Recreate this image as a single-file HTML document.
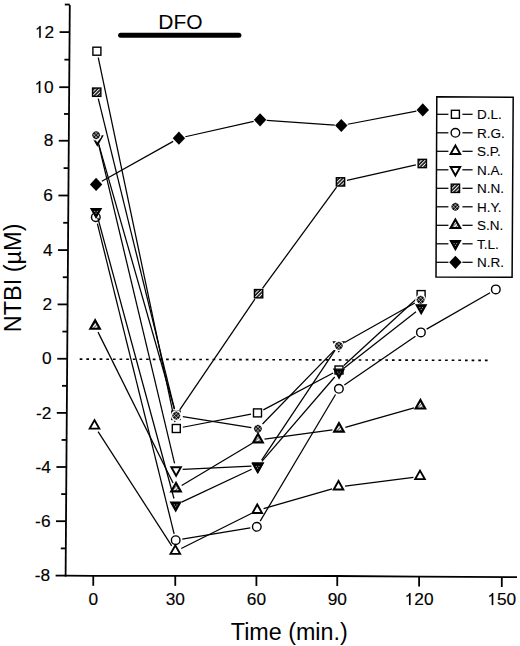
<!DOCTYPE html>
<html><head><meta charset="utf-8"><style>
html,body{margin:0;padding:0;background:#fff;width:520px;height:646px;overflow:hidden;}
svg{display:block;}
</style></head><body>
<svg width="520" height="646" viewBox="0 0 520 646">
<defs>
<pattern id="hatchT" width="2.4" height="2.4" patternUnits="userSpaceOnUse" patternTransform="rotate(45)">
<rect width="2.4" height="2.4" fill="#fff"/><rect width="1.0" height="2.4" fill="#555"/>
</pattern>
<pattern id="hatchN" width="2.6" height="2.6" patternUnits="userSpaceOnUse" patternTransform="rotate(45)">
<rect width="2.6" height="2.6" fill="#111"/><rect width="1.05" height="2.6" fill="#f4f4f4"/>
</pattern>
</defs>
<rect width="520" height="646" fill="#fff"/>
<line x1="69.80" y1="4.9" x2="65.60" y2="576.4" stroke="#000" stroke-width="1.8"/>
<polyline points="65.0,575.6 93.0,575.8 337.0,576.0 419.0,576.6 517.0,577.1" fill="none" stroke="#000" stroke-width="1.8"/>
<line x1="55.61" y1="575.60" x2="65.61" y2="575.60" stroke="#000" stroke-width="1.8"/>
<text x="34.72" y="581.30" font-size="17.3" font-family='"Liberation Sans", sans-serif' stroke="#000" stroke-width="0.15">-</text><text x="40.48" y="581.30" font-size="17.3" font-family='"Liberation Sans", sans-serif' stroke="#000" stroke-width="0.15">8</text>
<line x1="60.81" y1="548.40" x2="65.81" y2="548.40" stroke="#000" stroke-width="1.8"/>
<line x1="56.01" y1="521.20" x2="66.01" y2="521.20" stroke="#000" stroke-width="1.8"/>
<text x="35.12" y="526.90" font-size="17.3" font-family='"Liberation Sans", sans-serif' stroke="#000" stroke-width="0.15">-</text><text x="40.88" y="526.90" font-size="17.3" font-family='"Liberation Sans", sans-serif' stroke="#000" stroke-width="0.15">6</text>
<line x1="61.20" y1="494.10" x2="66.20" y2="494.10" stroke="#000" stroke-width="1.8"/>
<line x1="56.40" y1="467.00" x2="66.40" y2="467.00" stroke="#000" stroke-width="1.8"/>
<text x="35.52" y="472.70" font-size="17.3" font-family='"Liberation Sans", sans-serif' stroke="#000" stroke-width="0.15">-</text><text x="41.28" y="472.70" font-size="17.3" font-family='"Liberation Sans", sans-serif' stroke="#000" stroke-width="0.15">4</text>
<line x1="61.60" y1="439.95" x2="66.60" y2="439.95" stroke="#000" stroke-width="1.8"/>
<line x1="56.80" y1="412.90" x2="66.80" y2="412.90" stroke="#000" stroke-width="1.8"/>
<text x="35.92" y="418.60" font-size="17.3" font-family='"Liberation Sans", sans-serif' stroke="#000" stroke-width="0.15">-</text><text x="41.68" y="418.60" font-size="17.3" font-family='"Liberation Sans", sans-serif' stroke="#000" stroke-width="0.15">2</text>
<line x1="62.00" y1="385.82" x2="67.00" y2="385.82" stroke="#000" stroke-width="1.8"/>
<line x1="57.20" y1="358.75" x2="67.20" y2="358.75" stroke="#000" stroke-width="1.8"/>
<text x="42.08" y="364.45" font-size="17.3" font-family='"Liberation Sans", sans-serif' stroke="#000" stroke-width="0.15">0</text>
<line x1="62.40" y1="331.57" x2="67.40" y2="331.57" stroke="#000" stroke-width="1.8"/>
<line x1="57.60" y1="304.40" x2="67.60" y2="304.40" stroke="#000" stroke-width="1.8"/>
<text x="42.48" y="310.10" font-size="17.3" font-family='"Liberation Sans", sans-serif' stroke="#000" stroke-width="0.15">2</text>
<line x1="62.80" y1="277.24" x2="67.80" y2="277.24" stroke="#000" stroke-width="1.8"/>
<line x1="58.00" y1="250.08" x2="68.00" y2="250.08" stroke="#000" stroke-width="1.8"/>
<text x="42.88" y="255.78" font-size="17.3" font-family='"Liberation Sans", sans-serif' stroke="#000" stroke-width="0.15">4</text>
<line x1="63.20" y1="222.79" x2="68.20" y2="222.79" stroke="#000" stroke-width="1.8"/>
<line x1="58.40" y1="195.50" x2="68.40" y2="195.50" stroke="#000" stroke-width="1.8"/>
<text x="43.28" y="201.20" font-size="17.3" font-family='"Liberation Sans", sans-serif' stroke="#000" stroke-width="0.15">6</text>
<line x1="63.60" y1="168.12" x2="68.60" y2="168.12" stroke="#000" stroke-width="1.8"/>
<line x1="58.80" y1="140.74" x2="68.80" y2="140.74" stroke="#000" stroke-width="1.8"/>
<text x="43.68" y="146.44" font-size="17.3" font-family='"Liberation Sans", sans-serif' stroke="#000" stroke-width="0.15">8</text>
<line x1="64.00" y1="113.97" x2="69.00" y2="113.97" stroke="#000" stroke-width="1.8"/>
<line x1="59.20" y1="87.20" x2="69.20" y2="87.20" stroke="#000" stroke-width="1.8"/>
<path transform="translate(34.45,92.90) scale(0.00845,-0.00845)" d="M515 0H696V1409H560Q520 1320 440 1250Q350 1170 223 1110V950Q380 1010 515 1130Z" fill="#000" stroke="#000" stroke-width="17.8"/><text x="44.07" y="92.90" font-size="17.3" font-family='"Liberation Sans", sans-serif' stroke="#000" stroke-width="0.15">0</text>
<line x1="64.40" y1="59.65" x2="69.40" y2="59.65" stroke="#000" stroke-width="1.8"/>
<line x1="59.60" y1="32.10" x2="69.60" y2="32.10" stroke="#000" stroke-width="1.8"/>
<path transform="translate(34.86,37.80) scale(0.00845,-0.00845)" d="M515 0H696V1409H560Q520 1320 440 1250Q350 1170 223 1110V950Q380 1010 515 1130Z" fill="#000" stroke="#000" stroke-width="17.8"/><text x="44.48" y="37.80" font-size="17.3" font-family='"Liberation Sans", sans-serif' stroke="#000" stroke-width="0.15">2</text>
<line x1="64.80" y1="4.55" x2="69.80" y2="4.55" stroke="#000" stroke-width="1.8"/>
<line x1="93.26" y1="575.80" x2="93.26" y2="585.80" stroke="#000" stroke-width="1.8"/>
<text x="88.45" y="605.00" font-size="17.3" font-family='"Liberation Sans", sans-serif' stroke="#000" stroke-width="0.15">0</text>
<line x1="175.26" y1="575.87" x2="175.26" y2="585.87" stroke="#000" stroke-width="1.8"/>
<text x="165.64" y="605.00" font-size="17.3" font-family='"Liberation Sans", sans-serif' stroke="#000" stroke-width="0.15">3</text><text x="175.26" y="605.00" font-size="17.3" font-family='"Liberation Sans", sans-serif' stroke="#000" stroke-width="0.15">0</text>
<line x1="256.40" y1="575.93" x2="256.40" y2="585.93" stroke="#000" stroke-width="1.8"/>
<text x="246.78" y="605.00" font-size="17.3" font-family='"Liberation Sans", sans-serif' stroke="#000" stroke-width="0.15">6</text><text x="256.40" y="605.00" font-size="17.3" font-family='"Liberation Sans", sans-serif' stroke="#000" stroke-width="0.15">0</text>
<line x1="337.26" y1="576.00" x2="337.26" y2="586.00" stroke="#000" stroke-width="1.8"/>
<text x="327.64" y="605.00" font-size="17.3" font-family='"Liberation Sans", sans-serif' stroke="#000" stroke-width="0.15">9</text><text x="337.26" y="605.00" font-size="17.3" font-family='"Liberation Sans", sans-serif' stroke="#000" stroke-width="0.15">0</text>
<line x1="419.10" y1="576.60" x2="419.10" y2="586.60" stroke="#000" stroke-width="1.8"/>
<path transform="translate(404.67,605.00) scale(0.00845,-0.00845)" d="M515 0H696V1409H560Q520 1320 440 1250Q350 1170 223 1110V950Q380 1010 515 1130Z" fill="#000" stroke="#000" stroke-width="17.8"/><text x="414.29" y="605.00" font-size="17.3" font-family='"Liberation Sans", sans-serif' stroke="#000" stroke-width="0.15">2</text><text x="423.91" y="605.00" font-size="17.3" font-family='"Liberation Sans", sans-serif' stroke="#000" stroke-width="0.15">0</text>
<line x1="501.80" y1="577.02" x2="501.80" y2="587.02" stroke="#000" stroke-width="1.8"/>
<path transform="translate(487.37,605.00) scale(0.00845,-0.00845)" d="M515 0H696V1409H560Q520 1320 440 1250Q350 1170 223 1110V950Q380 1010 515 1130Z" fill="#000" stroke="#000" stroke-width="17.8"/><text x="496.99" y="605.00" font-size="17.3" font-family='"Liberation Sans", sans-serif' stroke="#000" stroke-width="0.15">5</text><text x="506.61" y="605.00" font-size="17.3" font-family='"Liberation Sans", sans-serif' stroke="#000" stroke-width="0.15">0</text>
<text x="230.8" y="639.6" font-size="23.3" font-family='"Liberation Sans", sans-serif'>Time (min.)</text>
<text transform="translate(21.1,332.3) rotate(-90)" x="0" y="0" font-size="23.5" font-family='"Liberation Sans", sans-serif'>NTBI (µM)</text>
<text x="158.3" y="29.3" font-size="21" font-family='"Liberation Sans", sans-serif'>DFO</text>
<line x1="120.6" y1="35.3" x2="238.9" y2="35.3" stroke="#000" stroke-width="5" stroke-linecap="round"/>
<line x1="79.7" y1="359.1" x2="488.5" y2="360.4" stroke="#000" stroke-width="1.6" stroke-dasharray="2.7 3.943"/>
<line x1="98.26" y1="57.66" x2="174.94" y2="422.04" stroke="#000" stroke-width="1.25"/>
<line x1="182.78" y1="427.25" x2="251.02" y2="414.15" stroke="#000" stroke-width="1.25"/>
<line x1="263.34" y1="409.83" x2="333.16" y2="373.07" stroke="#000" stroke-width="1.25"/>
<line x1="343.86" y1="365.54" x2="416.24" y2="299.06" stroke="#000" stroke-width="1.25"/>
<rect x="92.90" y="47.20" width="8.0" height="8.0" fill="#fff" stroke="#000" stroke-width="1.4"/>
<rect x="172.30" y="424.50" width="8.0" height="8.0" fill="#fff" stroke="#000" stroke-width="1.4"/>
<rect x="253.50" y="408.90" width="8.0" height="8.0" fill="#fff" stroke="#000" stroke-width="1.4"/>
<rect x="335.00" y="366.00" width="8.0" height="8.0" fill="#fff" stroke="#000" stroke-width="1.4"/>
<rect x="417.10" y="290.60" width="8.0" height="8.0" fill="#fff" stroke="#000" stroke-width="1.4"/>
<line x1="97.38" y1="223.61" x2="174.12" y2="533.79" stroke="#000" stroke-width="1.25"/>
<line x1="182.21" y1="539.12" x2="250.29" y2="527.88" stroke="#000" stroke-width="1.25"/>
<line x1="260.17" y1="521.13" x2="335.53" y2="394.47" stroke="#000" stroke-width="1.25"/>
<line x1="344.34" y1="385.06" x2="415.46" y2="336.14" stroke="#000" stroke-width="1.25"/>
<line x1="426.62" y1="329.11" x2="490.08" y2="292.69" stroke="#000" stroke-width="1.25"/>
<circle cx="95.80" cy="217.20" r="4.3" fill="#fff" stroke="#000" stroke-width="1.4"/>
<circle cx="175.70" cy="540.20" r="4.3" fill="#fff" stroke="#000" stroke-width="1.4"/>
<circle cx="256.80" cy="526.80" r="4.3" fill="#fff" stroke="#000" stroke-width="1.4"/>
<circle cx="338.90" cy="388.80" r="4.3" fill="#fff" stroke="#000" stroke-width="1.4"/>
<circle cx="420.90" cy="332.40" r="4.3" fill="#fff" stroke="#000" stroke-width="1.4"/>
<circle cx="495.80" cy="289.40" r="4.3" fill="#fff" stroke="#000" stroke-width="1.4"/>
<line x1="98.08" y1="431.65" x2="171.72" y2="545.85" stroke="#000" stroke-width="1.25"/>
<line x1="181.21" y1="548.45" x2="251.34" y2="513.45" stroke="#000" stroke-width="1.25"/>
<line x1="263.59" y1="508.67" x2="332.16" y2="488.83" stroke="#000" stroke-width="1.25"/>
<line x1="345.05" y1="486.16" x2="413.45" y2="477.44" stroke="#000" stroke-width="1.25"/>
<polygon points="94.50,420.10 89.70,428.60 99.30,428.60" fill="#fff" stroke="#000" stroke-width="1.9" stroke-linejoin="miter"/>
<polygon points="175.30,545.40 170.50,553.90 180.10,553.90" fill="#fff" stroke="#000" stroke-width="1.9" stroke-linejoin="miter"/>
<polygon points="257.25,504.50 252.45,513.00 262.05,513.00" fill="#fff" stroke="#000" stroke-width="1.9" stroke-linejoin="miter"/>
<polygon points="338.50,481.00 333.70,489.50 343.30,489.50" fill="#fff" stroke="#000" stroke-width="1.9" stroke-linejoin="miter"/>
<polygon points="420.00,470.60 415.20,479.10 424.80,479.10" fill="#fff" stroke="#000" stroke-width="1.9" stroke-linejoin="miter"/>
<line x1="98.83" y1="145.12" x2="174.57" y2="463.38" stroke="#000" stroke-width="1.25"/>
<line x1="182.69" y1="469.47" x2="251.41" y2="466.03" stroke="#000" stroke-width="1.25"/>
<line x1="261.67" y1="460.21" x2="335.13" y2="350.19" stroke="#000" stroke-width="1.25"/>
<polygon points="97.30,144.70 92.50,136.20 102.10,136.20" fill="#fff" stroke="#000" stroke-width="1.9" stroke-linejoin="miter"/>
<polygon points="176.10,475.80 171.30,467.30 180.90,467.30" fill="#fff" stroke="#000" stroke-width="1.9" stroke-linejoin="miter"/>
<polygon points="258.00,471.70 253.20,463.20 262.80,463.20" fill="#fff" stroke="#000" stroke-width="1.9" stroke-linejoin="miter"/>
<polygon points="338.80,350.70 334.00,342.20 343.60,342.20" fill="#fff" stroke="#000" stroke-width="1.9" stroke-linejoin="miter"/>
<line x1="98.27" y1="98.61" x2="174.43" y2="408.89" stroke="#000" stroke-width="1.25"/>
<line x1="179.71" y1="409.84" x2="254.89" y2="299.16" stroke="#000" stroke-width="1.25"/>
<line x1="262.50" y1="288.38" x2="336.60" y2="187.22" stroke="#000" stroke-width="1.25"/>
<line x1="346.94" y1="180.45" x2="415.86" y2="164.95" stroke="#000" stroke-width="1.25"/>
<rect x="92.55" y="88.05" width="8.3" height="8.3" fill="url(#hatchN)" stroke="#000" stroke-width="1.4"/>
<rect x="171.85" y="411.15" width="8.3" height="8.3" fill="url(#hatchN)" stroke="#000" stroke-width="1.4"/>
<rect x="254.45" y="289.55" width="8.3" height="8.3" fill="url(#hatchN)" stroke="#000" stroke-width="1.4"/>
<rect x="336.35" y="177.75" width="8.3" height="8.3" fill="url(#hatchN)" stroke="#000" stroke-width="1.4"/>
<rect x="418.15" y="159.35" width="8.3" height="8.3" fill="url(#hatchN)" stroke="#000" stroke-width="1.4"/>
<line x1="97.96" y1="141.55" x2="174.49" y2="409.25" stroke="#000" stroke-width="1.25"/>
<line x1="182.82" y1="416.65" x2="251.38" y2="427.65" stroke="#000" stroke-width="1.25"/>
<line x1="262.51" y1="423.97" x2="334.19" y2="350.43" stroke="#000" stroke-width="1.25"/>
<line x1="344.55" y1="342.46" x2="414.85" y2="302.94" stroke="#000" stroke-width="1.25"/>
<circle cx="96.15" cy="135.20" r="5.4" fill="#fff"/><g transform="translate(96.15,135.20) rotate(45)"><circle r="3.8" fill="#111"/><line x1="-1.3" y1="-3.7" x2="-1.3" y2="3.7" stroke="#fff" stroke-width="0.6" opacity="0.8"/><line x1="-3.7" y1="-1.3" x2="3.7" y2="-1.3" stroke="#fff" stroke-width="0.6" opacity="0.8"/><line x1="1.3" y1="-3.7" x2="1.3" y2="3.7" stroke="#fff" stroke-width="0.6" opacity="0.8"/><line x1="-3.7" y1="1.3" x2="3.7" y2="1.3" stroke="#fff" stroke-width="0.6" opacity="0.8"/></g>
<circle cx="176.30" cy="415.60" r="5.4" fill="#fff"/><g transform="translate(176.30,415.60) rotate(45)"><circle r="3.8" fill="#111"/><line x1="-1.3" y1="-3.7" x2="-1.3" y2="3.7" stroke="#fff" stroke-width="0.6" opacity="0.8"/><line x1="-3.7" y1="-1.3" x2="3.7" y2="-1.3" stroke="#fff" stroke-width="0.6" opacity="0.8"/><line x1="1.3" y1="-3.7" x2="1.3" y2="3.7" stroke="#fff" stroke-width="0.6" opacity="0.8"/><line x1="-3.7" y1="1.3" x2="3.7" y2="1.3" stroke="#fff" stroke-width="0.6" opacity="0.8"/></g>
<circle cx="257.90" cy="428.70" r="5.4" fill="#fff"/><g transform="translate(257.90,428.70) rotate(45)"><circle r="3.8" fill="#111"/><line x1="-1.3" y1="-3.7" x2="-1.3" y2="3.7" stroke="#fff" stroke-width="0.6" opacity="0.8"/><line x1="-3.7" y1="-1.3" x2="3.7" y2="-1.3" stroke="#fff" stroke-width="0.6" opacity="0.8"/><line x1="1.3" y1="-3.7" x2="1.3" y2="3.7" stroke="#fff" stroke-width="0.6" opacity="0.8"/><line x1="-3.7" y1="1.3" x2="3.7" y2="1.3" stroke="#fff" stroke-width="0.6" opacity="0.8"/></g>
<circle cx="338.80" cy="345.70" r="5.4" fill="#fff"/><g transform="translate(338.80,345.70) rotate(45)"><circle r="3.8" fill="#111"/><line x1="-1.3" y1="-3.7" x2="-1.3" y2="3.7" stroke="#fff" stroke-width="0.6" opacity="0.8"/><line x1="-3.7" y1="-1.3" x2="3.7" y2="-1.3" stroke="#fff" stroke-width="0.6" opacity="0.8"/><line x1="1.3" y1="-3.7" x2="1.3" y2="3.7" stroke="#fff" stroke-width="0.6" opacity="0.8"/><line x1="-3.7" y1="1.3" x2="3.7" y2="1.3" stroke="#fff" stroke-width="0.6" opacity="0.8"/></g>
<circle cx="420.60" cy="299.70" r="5.4" fill="#fff"/><g transform="translate(420.60,299.70) rotate(45)"><circle r="3.8" fill="#111"/><line x1="-1.3" y1="-3.7" x2="-1.3" y2="3.7" stroke="#fff" stroke-width="0.6" opacity="0.8"/><line x1="-3.7" y1="-1.3" x2="3.7" y2="-1.3" stroke="#fff" stroke-width="0.6" opacity="0.8"/><line x1="1.3" y1="-3.7" x2="1.3" y2="3.7" stroke="#fff" stroke-width="0.6" opacity="0.8"/><line x1="-3.7" y1="1.3" x2="3.7" y2="1.3" stroke="#fff" stroke-width="0.6" opacity="0.8"/></g>
<line x1="98.04" y1="332.11" x2="173.06" y2="482.99" stroke="#000" stroke-width="1.25"/>
<line x1="181.67" y1="485.51" x2="252.33" y2="443.29" stroke="#000" stroke-width="1.25"/>
<line x1="264.54" y1="439.03" x2="332.46" y2="429.97" stroke="#000" stroke-width="1.25"/>
<line x1="345.35" y1="427.30" x2="414.05" y2="407.80" stroke="#000" stroke-width="1.25"/>
<polygon points="95.10,320.20 90.30,328.70 99.90,328.70" fill="url(#hatchT)" stroke="#000" stroke-width="2.1" stroke-linejoin="miter"/>
<polygon points="176.00,482.90 171.20,491.40 180.80,491.40" fill="url(#hatchT)" stroke="#000" stroke-width="2.1" stroke-linejoin="miter"/>
<polygon points="258.00,433.90 253.20,442.40 262.80,442.40" fill="url(#hatchT)" stroke="#000" stroke-width="2.1" stroke-linejoin="miter"/>
<polygon points="339.00,423.10 334.20,431.60 343.80,431.60" fill="url(#hatchT)" stroke="#000" stroke-width="2.1" stroke-linejoin="miter"/>
<polygon points="420.40,400.00 415.60,408.50 425.20,408.50" fill="url(#hatchT)" stroke="#000" stroke-width="2.1" stroke-linejoin="miter"/>
<line x1="97.78" y1="217.77" x2="173.97" y2="498.53" stroke="#000" stroke-width="1.25"/>
<line x1="181.67" y1="502.09" x2="251.63" y2="469.21" stroke="#000" stroke-width="1.25"/>
<line x1="261.91" y1="461.40" x2="334.69" y2="377.00" stroke="#000" stroke-width="1.25"/>
<line x1="344.20" y1="367.93" x2="416.00" y2="311.67" stroke="#000" stroke-width="1.25"/>
<polygon points="96.05,217.70 90.95,208.60 101.15,208.60" fill="#000" stroke="#000" stroke-width="1.3" stroke-linejoin="miter"/><circle cx="94.75" cy="211.40" r="0.6" fill="#aaa"/><circle cx="97.35" cy="211.40" r="0.6" fill="#aaa"/><circle cx="96.05" cy="213.20" r="0.6" fill="#aaa"/>
<polygon points="175.70,511.20 170.60,502.10 180.80,502.10" fill="#000" stroke="#000" stroke-width="1.3" stroke-linejoin="miter"/><circle cx="174.40" cy="504.90" r="0.6" fill="#aaa"/><circle cx="177.00" cy="504.90" r="0.6" fill="#aaa"/><circle cx="175.70" cy="506.70" r="0.6" fill="#aaa"/>
<polygon points="257.60,472.70 252.50,463.60 262.70,463.60" fill="#000" stroke="#000" stroke-width="1.3" stroke-linejoin="miter"/><circle cx="256.30" cy="466.40" r="0.6" fill="#aaa"/><circle cx="258.90" cy="466.40" r="0.6" fill="#aaa"/><circle cx="257.60" cy="468.20" r="0.6" fill="#aaa"/>
<polygon points="339.00,378.30 333.90,369.20 344.10,369.20" fill="#000" stroke="#000" stroke-width="1.3" stroke-linejoin="miter"/><circle cx="337.70" cy="372.00" r="0.6" fill="#aaa"/><circle cx="340.30" cy="372.00" r="0.6" fill="#aaa"/><circle cx="339.00" cy="373.80" r="0.6" fill="#aaa"/>
<polygon points="421.20,313.90 416.10,304.80 426.30,304.80" fill="#000" stroke="#000" stroke-width="1.3" stroke-linejoin="miter"/><circle cx="419.90" cy="307.60" r="0.6" fill="#aaa"/><circle cx="422.50" cy="307.60" r="0.6" fill="#aaa"/><circle cx="421.20" cy="309.40" r="0.6" fill="#aaa"/>
<line x1="101.86" y1="181.18" x2="173.14" y2="141.42" stroke="#000" stroke-width="1.25"/>
<line x1="185.34" y1="136.75" x2="253.66" y2="121.30" stroke="#000" stroke-width="1.25"/>
<line x1="266.68" y1="120.31" x2="334.72" y2="125.04" stroke="#000" stroke-width="1.25"/>
<line x1="347.78" y1="124.26" x2="416.32" y2="111.14" stroke="#000" stroke-width="1.25"/>
<polygon points="96.10,177.80 102.30,184.40 96.10,191.00 89.90,184.40" fill="#000"/>
<polygon points="178.90,131.60 185.10,138.20 178.90,144.80 172.70,138.20" fill="#000"/>
<polygon points="260.10,113.25 266.30,119.85 260.10,126.45 253.90,119.85" fill="#000"/>
<polygon points="341.30,118.90 347.50,125.50 341.30,132.10 335.10,125.50" fill="#000"/>
<polygon points="422.80,103.30 429.00,109.90 422.80,116.50 416.60,109.90" fill="#000"/>
<polygon points="436.8,96.7 513.2,97.2 512.1,277.3 436.0,277.0" fill="none" stroke="#000" stroke-width="1.5"/>
<line x1="436.72" y1="114.30" x2="448.4" y2="114.30" stroke="#000" stroke-width="1.25"/>
<line x1="462.4" y1="114.30" x2="472.6" y2="114.30" stroke="#000" stroke-width="1.25"/>
<rect x="451.40" y="110.30" width="8.0" height="8.0" fill="#fff" stroke="#000" stroke-width="1.4"/>
<text x="477.0" y="119.10" font-size="13.5" font-family='"Liberation Sans", sans-serif' stroke="#000" stroke-width="0.1">D.L.</text>
<line x1="436.64" y1="132.80" x2="448.4" y2="132.80" stroke="#000" stroke-width="1.25"/>
<line x1="462.4" y1="132.80" x2="472.6" y2="132.80" stroke="#000" stroke-width="1.25"/>
<circle cx="455.40" cy="132.80" r="4.3" fill="#fff" stroke="#000" stroke-width="1.4"/>
<text x="477.0" y="137.60" font-size="13.5" font-family='"Liberation Sans", sans-serif' stroke="#000" stroke-width="0.1">R.G.</text>
<line x1="436.55" y1="151.30" x2="448.4" y2="151.30" stroke="#000" stroke-width="1.25"/>
<line x1="462.4" y1="151.30" x2="472.6" y2="151.30" stroke="#000" stroke-width="1.25"/>
<polygon points="455.40,145.54 450.60,154.04 460.20,154.04" fill="#fff" stroke="#000" stroke-width="1.9" stroke-linejoin="miter"/>
<text x="477.0" y="156.10" font-size="13.5" font-family='"Liberation Sans", sans-serif' stroke="#000" stroke-width="0.1">S.P.</text>
<line x1="436.47" y1="169.80" x2="448.4" y2="169.80" stroke="#000" stroke-width="1.25"/>
<line x1="462.4" y1="169.80" x2="472.6" y2="169.80" stroke="#000" stroke-width="1.25"/>
<polygon points="455.40,175.56 450.60,167.06 460.20,167.06" fill="#fff" stroke="#000" stroke-width="1.9" stroke-linejoin="miter"/>
<text x="477.0" y="174.60" font-size="13.5" font-family='"Liberation Sans", sans-serif' stroke="#000" stroke-width="0.1">N.A.</text>
<line x1="436.39" y1="188.30" x2="448.4" y2="188.30" stroke="#000" stroke-width="1.25"/>
<line x1="462.4" y1="188.30" x2="472.6" y2="188.30" stroke="#000" stroke-width="1.25"/>
<rect x="451.25" y="184.15" width="8.3" height="8.3" fill="url(#hatchN)" stroke="#000" stroke-width="1.4"/>
<text x="477.0" y="193.10" font-size="13.5" font-family='"Liberation Sans", sans-serif' stroke="#000" stroke-width="0.1">N.N.</text>
<line x1="436.30" y1="206.80" x2="448.4" y2="206.80" stroke="#000" stroke-width="1.25"/>
<line x1="462.4" y1="206.80" x2="472.6" y2="206.80" stroke="#000" stroke-width="1.25"/>
<circle cx="455.40" cy="206.80" r="5.4" fill="#fff"/><g transform="translate(455.40,206.80) rotate(45)"><circle r="3.8" fill="#111"/><line x1="-1.3" y1="-3.7" x2="-1.3" y2="3.7" stroke="#fff" stroke-width="0.6" opacity="0.8"/><line x1="-3.7" y1="-1.3" x2="3.7" y2="-1.3" stroke="#fff" stroke-width="0.6" opacity="0.8"/><line x1="1.3" y1="-3.7" x2="1.3" y2="3.7" stroke="#fff" stroke-width="0.6" opacity="0.8"/><line x1="-3.7" y1="1.3" x2="3.7" y2="1.3" stroke="#fff" stroke-width="0.6" opacity="0.8"/></g>
<text x="477.0" y="211.60" font-size="13.5" font-family='"Liberation Sans", sans-serif' stroke="#000" stroke-width="0.1">H.Y.</text>
<line x1="436.22" y1="225.30" x2="448.4" y2="225.30" stroke="#000" stroke-width="1.25"/>
<line x1="462.4" y1="225.30" x2="472.6" y2="225.30" stroke="#000" stroke-width="1.25"/>
<polygon points="455.40,219.54 450.60,228.04 460.20,228.04" fill="url(#hatchT)" stroke="#000" stroke-width="2.1" stroke-linejoin="miter"/>
<text x="477.0" y="230.10" font-size="13.5" font-family='"Liberation Sans", sans-serif' stroke="#000" stroke-width="0.1">S.N.</text>
<line x1="436.14" y1="243.80" x2="448.4" y2="243.80" stroke="#000" stroke-width="1.25"/>
<line x1="462.4" y1="243.80" x2="472.6" y2="243.80" stroke="#000" stroke-width="1.25"/>
<polygon points="455.40,249.86 450.30,240.76 460.50,240.76" fill="#000" stroke="#000" stroke-width="1.3" stroke-linejoin="miter"/><circle cx="454.10" cy="243.56" r="0.6" fill="#aaa"/><circle cx="456.70" cy="243.56" r="0.6" fill="#aaa"/><circle cx="455.40" cy="245.36" r="0.6" fill="#aaa"/>
<text x="477.0" y="248.60" font-size="13.5" font-family='"Liberation Sans", sans-serif' stroke="#000" stroke-width="0.1">T.L.</text>
<line x1="436.05" y1="262.30" x2="448.4" y2="262.30" stroke="#000" stroke-width="1.25"/>
<line x1="462.4" y1="262.30" x2="472.6" y2="262.30" stroke="#000" stroke-width="1.25"/>
<polygon points="455.40,255.70 461.60,262.30 455.40,268.90 449.20,262.30" fill="#000"/>
<text x="477.0" y="267.10" font-size="13.5" font-family='"Liberation Sans", sans-serif' stroke="#000" stroke-width="0.1">N.R.</text>
</svg>
</body></html>
